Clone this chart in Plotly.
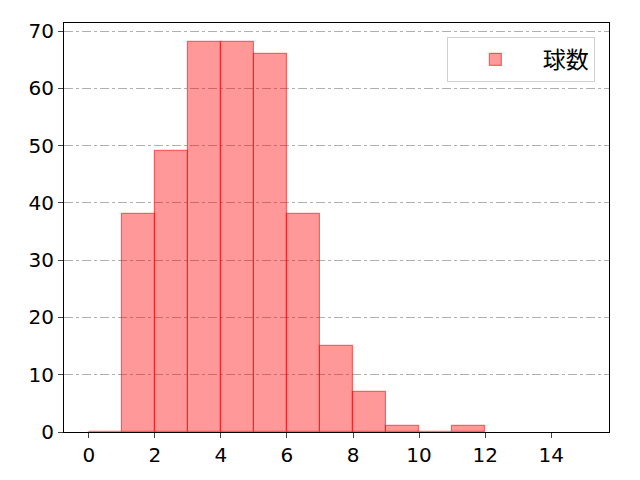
import plotly.graph_objects as go

bin_left = [0, 1, 2, 3, 4, 5, 6, 7, 8, 9, 10, 11]
counts = [0, 38, 49, 68, 68, 66, 38, 15, 7, 1, 0, 1]
series_name = "球数"
x_ticks = [0, 2, 4, 6, 8, 10, 12, 14]
y_ticks = [0, 10, 20, 30, 40, 50, 60, 70]

centers = [b + 0.5 for b in bin_left]

fig = go.Figure()
fig.add_trace(go.Bar(
    x=centers, y=counts, width=1, name=series_name,
    marker=dict(color="rgba(255,0,0,0.4)", line=dict(color="rgba(255,0,0,0.55)", width=1.2)),
    showlegend=True,
))

tick_font = "DejaVu Sans, Noto Sans CJK JP, sans-serif"
fig.update_layout(
    width=640, height=480,
    margin=dict(l=56, r=39, t=15, b=56, autoexpand=False),
    paper_bgcolor="white", plot_bgcolor="white",
    font=dict(family=tick_font, size=20, color="black"),
    bargap=0,
    showlegend=True,
    legend=dict(
        x=0.974, y=0.966, xanchor="right", yanchor="top",
        bordercolor="#d0d0d0", borderwidth=1, bgcolor="rgba(255,255,255,0.8)",
        font=dict(family="Noto Sans CJK JP, sans-serif", size=23), itemwidth=85,
    ),
    xaxis=dict(
        range=[-0.75, 15.75], tickvals=x_ticks, ticks="outside", ticklen=5,
        showline=True, mirror=True, linecolor="black", linewidth=1,
        showgrid=False, zeroline=False, tickfont=dict(size=20), layer="above traces",
    ),
    yaxis=dict(
        range=[0, 71.4], tickvals=y_ticks, ticks="outside", ticklen=5,
        showline=True, mirror=True, linecolor="black", linewidth=1,
        showgrid=True, gridcolor="#b0b0b0", griddash="dashdot", gridwidth=0.8,
        zeroline=False, tickfont=dict(size=20), layer="above traces",
    ),
)

fig.write_html("out.html")
